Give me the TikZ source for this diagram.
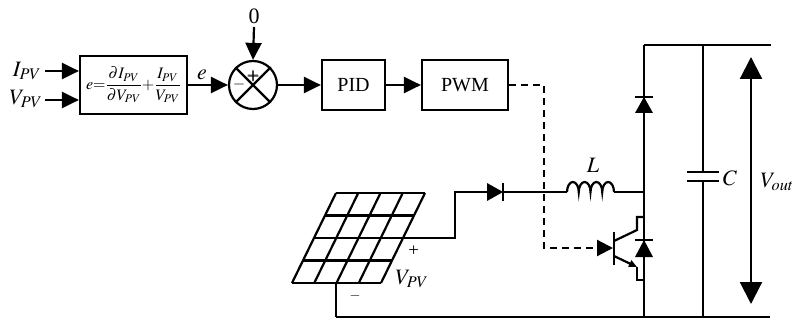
\documentclass[tikz,border=0pt]{standalone}
\usepackage{amsmath}
\usepackage{mathptmx}
\usepackage{fontspec}
\setmainfont{Liberation Serif}
\usetikzlibrary{arrows.meta}
\tikzset{
    wire/.style={line width=2.2pt},
    blockbox/.style={draw, rectangle, line width=2.2pt, inner sep=0pt},
    link/.style={wire, -{Triangle[length=17pt,width=16pt]}},
    ctrl/.style={wire, dash pattern=on 7pt off 5pt, -{Triangle[length=16pt,width=16pt]}},
    lbl/.style={inner sep=0pt, font=\fontsize{22}{22}\selectfont}
}
\begin{document}
\begin{tikzpicture}[x=1pt, y=-1pt, font=\fontsize{20}{20}\selectfont]
    \useasboundingbox (0,0) rectangle (792,323);
    % control chain
    \node [blockbox, minimum width=107pt, minimum height=58pt] (mppt) at (133.5,85) {\fontsize{16}{16}\selectfont$e{=}\dfrac{\partial I_{PV}}{\partial V_{PV}}{+}\dfrac{I_{PV}}{V_{PV}}$};
    \node [draw, circle, wire, minimum size=48pt, inner sep=0pt, right of=mppt, node distance=119.5pt] (sum) {};
    \node [blockbox, minimum width=63pt, minimum height=50pt, right of=sum, node distance=100.5pt] (pid) {PID};
    \node [blockbox, minimum width=86pt, minimum height=50pt, right of=pid, node distance=111.5pt] (pwm) {PWM};
    \draw [wire] (sum.45) -- (sum.225);
    \draw [wire] (sum.135) -- (sum.315);
    \node [inner sep=0pt, font=\fontsize{16}{16}\selectfont] (plus) at (253.5,76) {$\pmb{+}$};
    \node [inner sep=0pt, font=\fontsize{16}{16}\selectfont] (minus) at (239,85) {$-$};
    \node [lbl] (ipv) at (27,71) {$I_{PV}$};
    \node [lbl] (vpv) at (26,99) {$V_{PV}$};
    \node [lbl] (zero) at (254,16) {0};
    \node [lbl] (err) at (202,75) {$e$};
    \coordinate (ipvend) at (45,71);
    \coordinate (vpvend) at (45,100);
    \coordinate (zeroend) at (254,27);
    \draw [link] (ipvend) -- (mppt.west |- ipvend);
    \draw [link] (vpvend) -- (mppt.west |- vpvend);
    \draw [link] (mppt) -- (sum);
    \draw [link] (zeroend) -- (sum.north);
    \draw [link] (sum) -- (pid);
    \draw [link] (pid) -- (pwm);
    % power stage
    \coordinate (busa) at (644,45);
    \coordinate (busb) at (771,45);
    \coordinate (gnda) at (336,317);
    \coordinate (gndb) at (770,317);
    \coordinate (gndc) at (644,317);
    \coordinate (capa) at (703,45);
    \coordinate (capb) at (703,317);
    \coordinate (vtop) at (751,57);
    \coordinate (vbot) at (751,304);
    \draw [wire] (busa) -- (busb);
    \draw [wire] (gnda) -- (gndb);
    \draw [wire] (busa) -- (gndc);
    % capacitor
    \draw [wire] (capa) -- (703,172);
    \draw [wire] (703,181) -- (capb);
    \draw [wire] (687,172) -- (719,172);
    \draw [wire] (687,181) -- (719,181);
    \node [lbl] (cap) at (730,178) {$C$};
    \draw [wire, {Triangle[length=22pt,width=22pt]}-{Triangle[length=22pt,width=22pt]}] (vtop) -- (vbot);
    \node [lbl] (vout) at (777,182) {$V_{out}$};
    % panel
    \foreach \i in {0,...,4} {
        \draw [wire] (336-\i*11,193+\i*22.5) -- (425-\i*11,193+\i*22.5);
        \draw [wire] (336+\i*22.25,193) -- (292+\i*22.25,283);
    }
    \coordinate (pvpos) at (403,238);
    \coordinate (dioa) at (487,192);
    \coordinate (diob) at (503,192);
    \coordinate (inda) at (567,192);
    \coordinate (indb) at (614,192);
    \coordinate (node) at (644,192);
    \draw [wire] (pvpos) -- (455,238) -- (455,192) -- (dioa);
    \fill (dioa) ++(0,-9) -- ++(16,9) -- ++(-16,9) -- cycle;
    \draw [wire] (503,183) -- (503,201);
    \draw [wire] (diob) -- (inda);
    \draw [wire] (indb) -- (node);
    \draw [wire] (inda) \foreach \n in {1,...,4} { arc [start angle=180, end angle=360, x radius=5.875, y radius=10] };
    \draw [wire] (gnda) -- (336,283);
    \node [font=\fontsize{13}{13}\selectfont, inner sep=0pt] (pvplus) at (414,250) {$\pmb{+}$};
    \node [font=\fontsize{14}{14}\selectfont, inner sep=0pt] (pvminus) at (355,296) {$-$};
    \node [lbl] (vpvb) at (412,279) {$V_{PV}$};
    \node [lbl] (ind) at (593,165) {$L$};
    % top diode
    \fill (635,113) -- (653,113) -- (644,97) -- cycle;
    \draw [wire] (635,97) -- (653,97);
    % switch
    \coordinate (gate) at (613,248);
    \draw [ctrl] (pwm) -| (544,248) -- (gate);
    \draw [wire] (614,232) -- (614,265);
    \draw [wire] (614,241) -- (637,230) -- (637,217) -- (644,217);
    \draw [wire, -{Triangle[length=8pt,width=7pt]}] (614,256) -- (637,267);
    \draw [wire] (637,267) -- (637,280) -- (644,280);
    \fill (635,257) -- (653,257) -- (644,240) -- cycle;
    \draw [wire] (635,240) -- (653,240);
\end{tikzpicture}
\end{document}
